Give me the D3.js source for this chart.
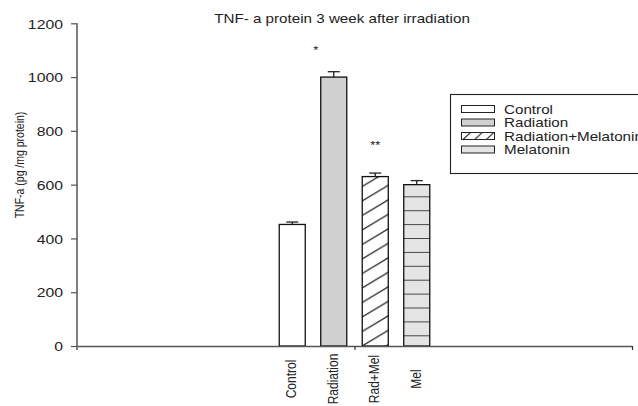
<!DOCTYPE html>
<html><head><meta charset="utf-8">
<script src="https://cdn.jsdelivr.net/npm/d3@7"></script>
<style>
html,body{margin:0;padding:0;background:#fff;}
svg{display:block;}
text{font-family:"Liberation Sans",Arial,sans-serif;fill:#222;}
</style></head>
<body>
<svg id="chart" width="638" height="406"></svg>
<script>
const categories = ["Control", "Radiation", "Rad+Mel", "Mel"];
const legendLabels = ["Control", "Radiation", "Radiation+Melatonin", "Melatonin"];
const values = [452, 1000, 630, 600];
const errors = [9, 20, 13, 15];
const yTicks = [0, 200, 400, 600, 800, 1000, 1200];
const significance = ["", "*", "**", ""];
const title = "TNF- a protein 3 week after irradiation";
const yTitle = "TNF-a (pg /mg protein)";

const SX = 1.17; // horizontal stretch of the reference
const svg = d3.select("#chart");
const y = d3.scaleLinear().domain([0, 1200]).range([346, 23.3]);
const xAxisScale = d3.scaleLinear().domain([0, 2]).range([77, 632]);
const pitch = 41.5;
const cx = xAxisScale(1);
const band = d3.scaleBand().domain(categories)
  .range([cx - 2 * pitch, cx + 2 * pitch])
  .paddingInner(0.373).paddingOuter(0.1865);

const defs = svg.append("defs");
// diagonal hatch
const hp = defs.append("pattern").attr("id", "hatch").attr("patternUnits", "userSpaceOnUse")
  .attr("width", 24).attr("height", 14.5).attr("x", band("Rad+Mel")).attr("y", y(0));
hp.append("rect").attr("width", 24).attr("height", 14.5).attr("fill", "#fff");
hp.append("path").attr("d", "M-2,15.7 L26,-1.2 M-26,15.7 L2,-1.2 M22,15.7 L50,-1.2")
  .attr("stroke", "#111").attr("stroke-width", 1.1);
// horizontal lines
const lp = defs.append("pattern").attr("id", "hlines").attr("patternUnits", "userSpaceOnUse")
  .attr("width", 40).attr("height", 13.9).attr("x", 0).attr("y", y(0) - 10.7);
lp.append("rect").attr("width", 40).attr("height", 13.9).attr("fill", "#e4e4e4");
lp.append("line").attr("x1", 0).attr("x2", 40).attr("y1", 0).attr("y2", 0)
  .attr("stroke", "#111").attr("stroke-width", 1.4);
// legend hatch
const lh = defs.append("pattern").attr("id", "lhatch").attr("patternUnits", "userSpaceOnUse")
  .attr("width", 11.7).attr("height", 7).attr("x", 462).attr("y", 0);
lh.append("rect").attr("width", 11.7).attr("height", 7).attr("fill", "#fff");
lh.append("path").attr("d", "M0,7.5 L8.5,-0.5").attr("stroke", "#111").attr("stroke-width", 1);

const fills = ["#ffffff", "#d0d0d0", "url(#hatch)", "url(#hlines)"];
const legendFills = ["#ffffff", "#d0d0d0", "url(#lhatch)", "#e4e4e4"];

function stretchText(sel, x, yy, rot) {
  return sel.attr("transform", rot ? `translate(${x},${yy}) rotate(-90) scale(1,${SX})`
                                   : `translate(${x},${yy}) scale(${SX},1)`);
}

// bars
const data = categories.map((c, i) => ({c, v: values[i], e: errors[i], f: fills[i], s: significance[i]}));
svg.append("g").selectAll("rect").data(data).join("rect")
  .attr("x", d => band(d.c)).attr("width", band.bandwidth())
  .attr("y", d => y(d.v)).attr("height", d => y(0) - y(d.v))
  .attr("fill", d => d.f).attr("stroke", "#111").attr("stroke-width", 1.3);

// error bars
const eg = svg.append("g").attr("stroke", "#222").attr("stroke-width", 1.3);
data.forEach(d => {
  const mx = band(d.c) + band.bandwidth() / 2;
  eg.append("line").attr("x1", mx).attr("x2", mx).attr("y1", y(d.v)).attr("y2", y(d.v + d.e));
  eg.append("line").attr("x1", mx - 6).attr("x2", mx + 6).attr("y1", y(d.v + d.e)).attr("y2", y(d.v + d.e));
});

// significance stars
data.forEach(d => {
  if (!d.s) return;
  const mx = d.s === "*" ? band(d.c) - 5 : band(d.c) + band.bandwidth() / 2;
  const yy = d.s === "*" ? y(d.v + 120) + 9 : y(d.v + 130) + 7;
  stretchText(svg.append("text").attr("text-anchor", "middle").attr("font-size", 11).text(d.s), mx, yy, false);
});

// y axis
const yAxis = svg.append("g").attr("transform", "translate(77,0)")
  .call(d3.axisLeft(y).tickValues(yTicks).tickFormat(d3.format("d")).tickSize(6).tickSizeOuter(0).tickPadding(8));
yAxis.select(".domain").attr("stroke", "#555").attr("stroke-width", 1.5).attr("d", `M0,${y(1200)}V${y(0) + 4}`);
yAxis.selectAll(".tick line").attr("stroke", "#555").attr("stroke-width", 1.2);
yAxis.selectAll(".tick text").each(function () {
  const t = d3.select(this);
  t.attr("x", null).attr("dy", "0.35em").attr("font-size", 13.5)
   .attr("font-family", '"Liberation Sans",Arial,sans-serif').attr("fill", "#222")
   .attr("transform", `translate(-14,0) scale(${SX},1)`);
});

// x axis
const xAxis = svg.append("g").attr("transform", `translate(0,${y(0)})`)
  .call(d3.axisBottom(xAxisScale).tickValues([1, 2]).tickSize(4).tickSizeOuter(0).tickFormat(""));
xAxis.select(".domain").attr("stroke", "#555").attr("stroke-width", 1.5);
xAxis.selectAll(".tick line").attr("stroke", "#333").attr("stroke-width", 1.2);

// x labels
categories.forEach(c => {
  stretchText(svg.append("text").attr("text-anchor", "middle").attr("dy", "0.35em")
    .attr("font-size", 12).text(c), band(c) + band.bandwidth() / 2 - 1, 379, true);
});

// title
stretchText(svg.append("text").attr("text-anchor", "middle").attr("font-size", 13).text(title), 342, 23, false);

// y title
stretchText(svg.append("text").attr("text-anchor", "middle").attr("font-size", 10.5).text(yTitle), 24, 165, true);

// legend
const lg = svg.append("g");
lg.append("rect").attr("x", 450.5).attr("y", 94.5).attr("width", 220).attr("height", 79)
  .attr("fill", "#fff").attr("stroke", "#222").attr("stroke-width", 1.1);
legendLabels.forEach((l, i) => {
  const cy = 109 + i * 13.5;
  lg.append("rect").attr("x", 461.5).attr("y", cy - 3.5).attr("width", 33).attr("height", 7)
    .attr("fill", legendFills[i]).attr("stroke", "#222").attr("stroke-width", 1);
  stretchText(lg.append("text").attr("font-size", 13).attr("dy", "0.35em").text(l), 504, cy, false);
});
</script>
</body></html>
